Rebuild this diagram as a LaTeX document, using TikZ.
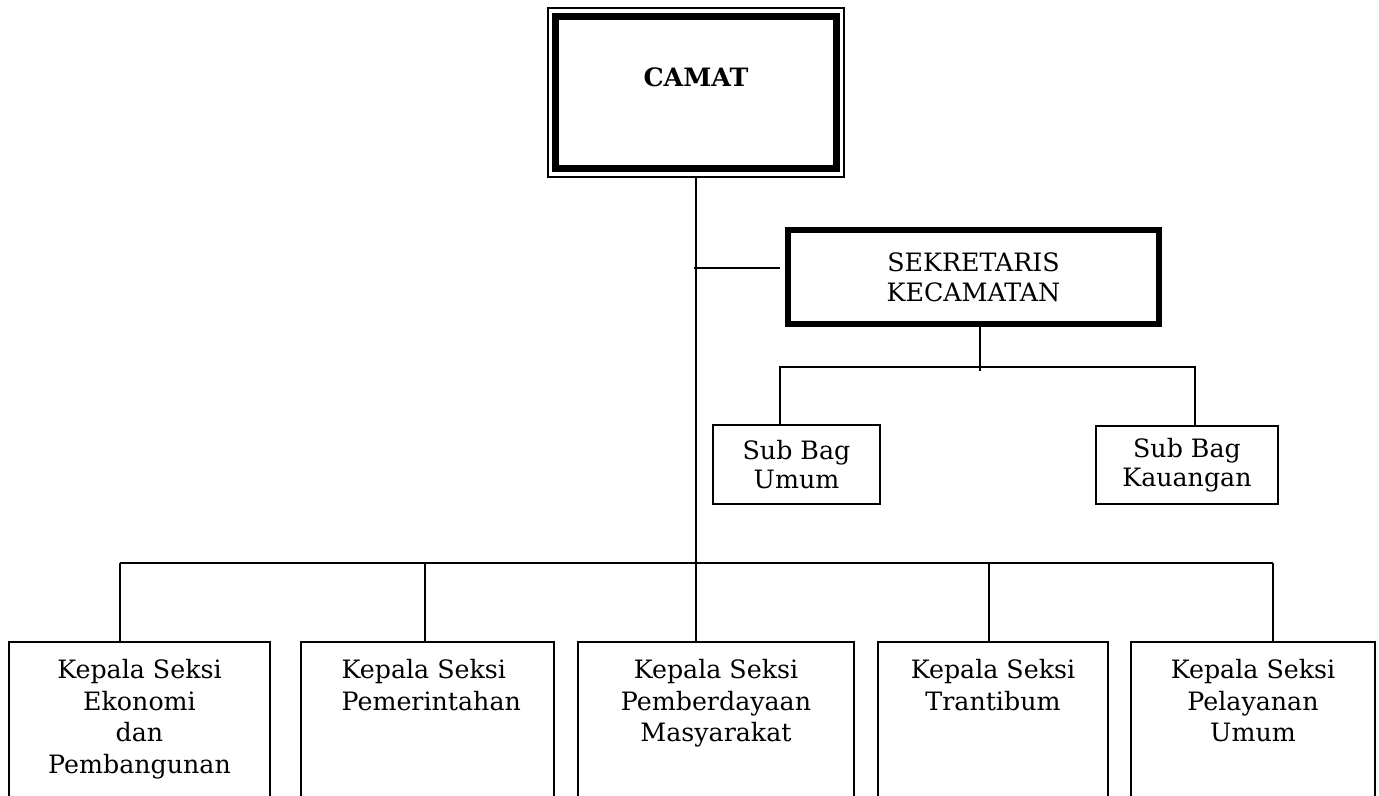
\documentclass[tikz,border=0pt]{standalone}
\usepackage{fontspec}
\setmainfont{DejaVu Serif}

\begin{document}
\begin{tikzpicture}[x=0.02cm, y=-0.02cm, line width=1.1pt,
    unit/.style={draw, outer sep=0pt, inner sep=0pt, align=center,
        font=\fontsize{14.4pt}{16.5pt}\selectfont},
    seksi/.style={unit, anchor=north, inner ysep=0.35cm, text depth=3cm,
        font=\fontsize{14.4pt}{18pt}\selectfont}]

% Page
\useasboundingbox (0,0) rectangle (1379,795);
\fill[white] (0,0) rectangle (1379,795);
\clip (0,0) rectangle (1379,795);

% Camat
\node[unit, line width=0.14cm, minimum width=5.64cm, minimum height=3.06cm,
    font=\bfseries\fontsize{14.4pt}{18pt}\selectfont] (camat) at (696,92.5) {\raisebox{0.6cm}{CAMAT}};
\node[draw, line width=0.8pt, outer sep=0pt, minimum width=5.92cm, minimum height=3.38cm] (camatframe) at (camat) {};

% Sekretaris
\node[unit, line width=0.11cm, minimum width=7.42cm, minimum height=1.88cm,
    font=\fontsize{14.4pt}{17pt}\selectfont] (sekretaris) at (973.5,277) {SEKRETARIS\\KECAMATAN};

% Sub bagian
\node[unit, minimum width=3.34cm, minimum height=1.58cm] (umum) at (796.5,464.5) {Sub Bag\\Umum};
\node[unit, minimum width=3.64cm, minimum height=1.56cm] (keuangan) at (1187,465) {Sub Bag\\Kauangan};

% Seksi
\node[seksi, minimum width=5.22cm] (ekbang) at (139.5,642) {Kepala Seksi\\Ekonomi\\dan\\Pembangunan};
\node[seksi, minimum width=5.06cm, align=left] (pem) at (427.5,642) {\hspace*{0.15cm}Kepala Seksi\\\hspace*{0.15cm}Pemerintahan};
\node[seksi, minimum width=5.52cm] (pmd) at (716,642) {Kepala Seksi\\Pemberdayaan\\Masyarakat};
\node[seksi, minimum width=4.6cm] (trantib) at (993,642) {Kepala Seksi\\Trantibum};
\node[seksi, minimum width=4.88cm] (pelum) at (1253,642) {Kepala Seksi\\Pelayanan\\Umum};

% Garis camat
\draw (camatframe.south) -- (camatframe.south |- pmd.north);
\coordinate (sekjoin) at (694,268);
\draw[shorten >=0.16cm] (sekjoin) -- (sekjoin -| sekretaris.west);

% Garis sekretaris
\coordinate (sekdrop) at (980,371);
\coordinate (busl) at (780,367);
\coordinate (busr) at (1195,367);
\draw (sekretaris.south -| sekdrop) -- (sekdrop);
\draw (umum.north -| busl) -- (busl) -- (busr) -- (keuangan.north -| busr);

% Garis seksi
\coordinate (busleft) at (120,563);
\coordinate (busright) at (1273,563);
\draw (busleft) -- (busright);
\foreach \s/\b in {ekbang/120, pem/425, trantib/989, pelum/1273} {
    \coordinate (drop) at (\b,563);
    \draw (drop) -- (\s.north -| drop);
}

\end{tikzpicture}
\end{document}
